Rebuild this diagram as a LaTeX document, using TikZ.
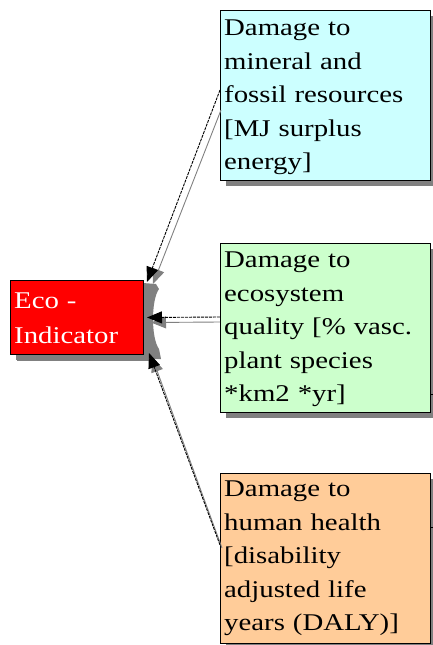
\documentclass[tikz,border=0pt]{standalone}
\usepackage{fontspec}
\setmainfont{Liberation Serif}[FakeStretch=1.2]
\usetikzlibrary{arrows.meta,calc,shadows}
\definecolor{cyanbox}{HTML}{CCFFFF}
\definecolor{greenbox}{HTML}{CCFFCC}
\definecolor{orangebox}{HTML}{FFCC99}
\definecolor{redbox}{HTML}{FF0000}
\definecolor{shadowc}{HTML}{808080}
\begin{document}
\begin{tikzpicture}[x=1pt,y=-1pt,
  boxst/.style={draw=black, line width=1pt, inner sep=0pt, anchor=north west,
    drop shadow={shadow xshift=5pt, shadow yshift=-5pt, opacity=1, fill=shadowc}},
  txt/.style={anchor=north west, inner sep=0pt, align=left, text width=205pt,
    font=\fontsize{24}{33.5}\selectfont},
  blk/.style={draw=black, line width=0.9pt, dash pattern=on 3pt off 1pt,
    -{Triangle[length=15pt,width=12pt]}},
  gry/.style={draw=shadowc, line width=0.9pt,
    -{Triangle[length=15pt,width=12pt]}},
  stub/.style={draw=black, line width=1pt}]
\useasboundingbox (0,0) rectangle (433,645);
% boxes
\node[boxst, fill=cyanbox, minimum width=210pt, minimum height=170pt] (cyan) at (220,10) {};
\node[boxst, fill=greenbox, minimum width=210pt, minimum height=169pt] (green) at (220,243) {};
\node[boxst, fill=orangebox, minimum width=210pt, minimum height=170pt] (orange) at (220,473) {};
% grey bracket shadow on the right of the red box
\fill[shadowc] (143,283) -- (156,284) -- (159,289)
  .. controls (151,300) and (151,338) .. (159,349) -- (161,359) -- (143,359) -- cycle;
\node[boxst, fill=redbox, minimum width=133pt, minimum height=74pt,
  drop shadow={shadow xshift=6pt, shadow yshift=-6pt, opacity=1, fill=shadowc}] (eco) at (10,280) {};
% texts
\node[txt] (t1) at ($(cyan.north west)+(4,2)$) {\strut Damage to\\mineral and\\fossil resources\\{[}MJ surplus\\energy]};
\node[txt] (t2) at ($(green.north west)+(4,1)$) {\strut Damage to\\ecosystem\\quality [\% vasc.\\plant species\\{*}km2 *yr]};
\node[txt] (t3) at ($(orange.north west)+(4,0)$) {\strut Damage to\\human health\\{[}disability\\adjusted life\\years (DALY)]};
\node[txt, text=white, text width=125pt, font=\fontsize{24}{35}\selectfont] (t4) at ($(eco.north west)+(4,4)$) {\strut Eco -\\Indicator};
% connectors: grey shadow lines
\draw[gry] ($(cyan.north west)+(1,100)$) -- ($(eco.north east)+(9,4)$);
\draw[gry] ($(green.north west)+(0,79)$) -- ($(eco.east)+(7,5)$);
\draw[gry] ($(orange.north west)+(2,75)$) -- ($(eco.south east)+(8,2)$);
% connectors: black lines
\draw[blk] ($(cyan.north west)+(0,80)$) -- ($(eco.north east)+(3,2)$);
\draw[blk] ($(green.north west)+(0,74)$) -- ($(eco.east)+(3,0)$);
\draw[blk] ($(orange.north west)+(0,72)$) -- ($(eco.south east)+(5,-2)$);
% stubs leaving to the right
\coordinate (gs) at (433,394);
\coordinate (os) at (433,527);
\draw[stub] (gs -| green.east) -- (gs);
\draw[stub] (os -| orange.east) -- (os);
\end{tikzpicture}
\end{document}
